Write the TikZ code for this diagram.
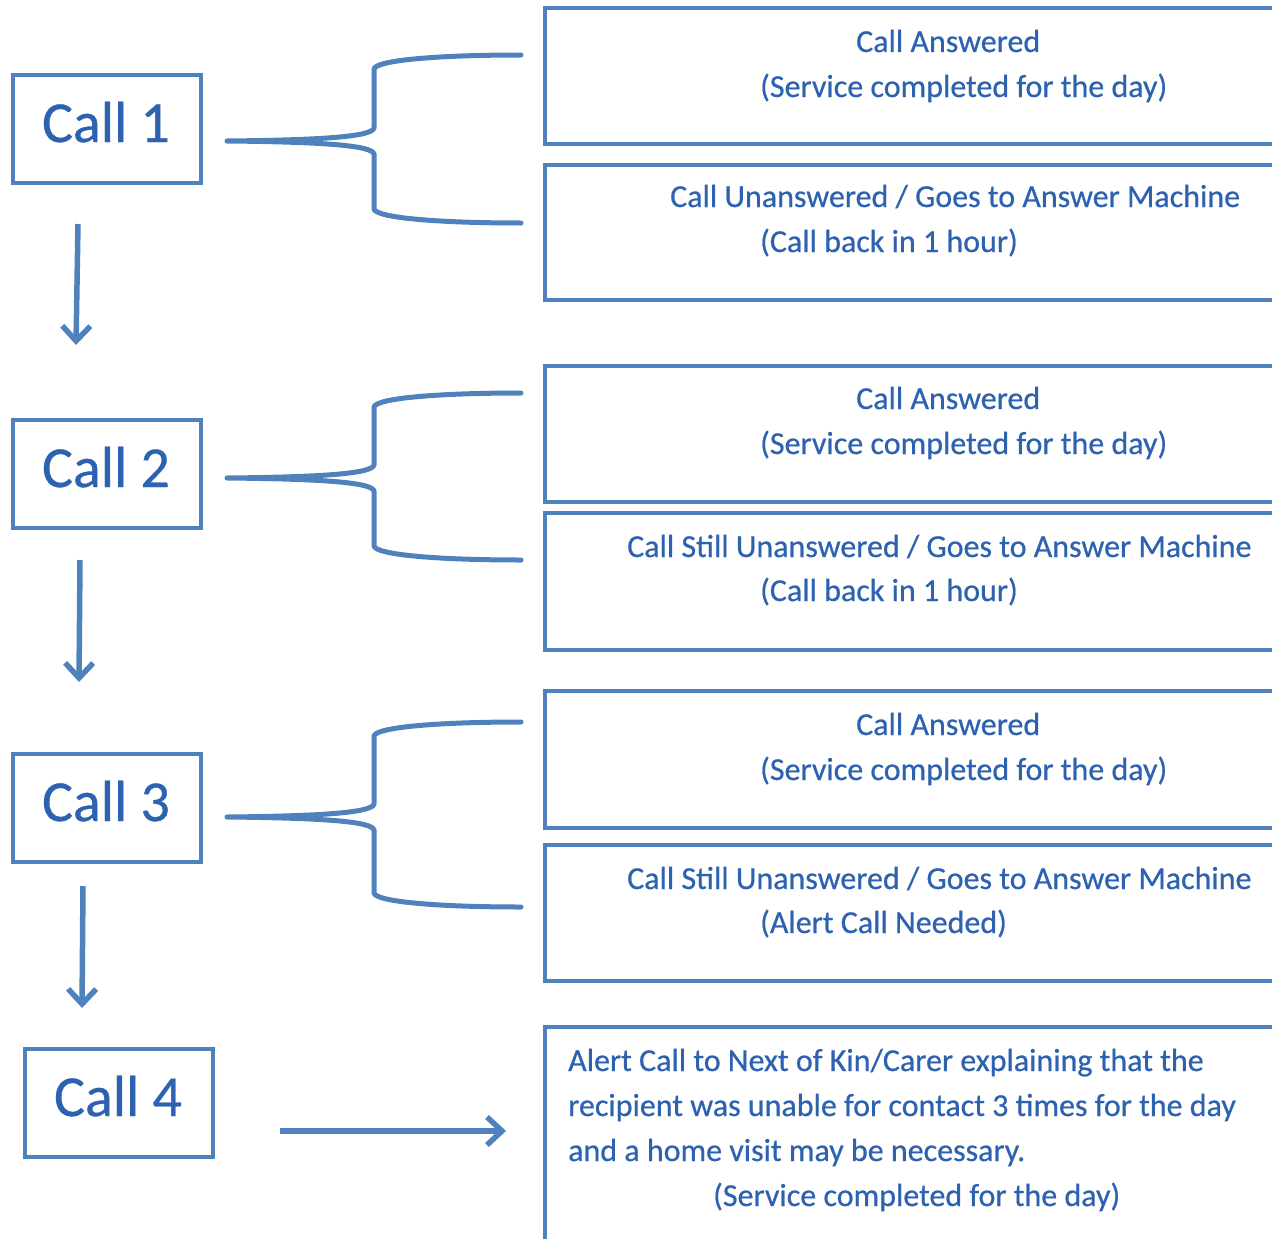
\documentclass[tikz,border=0pt]{standalone}
\usepackage{fontspec}
\setmainfont{Carlito}[FakeBold=0.6]
\usetikzlibrary{arrows.meta}
\definecolor{bline}{RGB}{79,129,189}
\definecolor{btext}{RGB}{45,98,176}
\newcommand\mybrace[3]{%
  \draw[brace] (521,#2) .. controls (440,#2) and (376,{#2+5}) .. (374,{#2+14})
    -- (374,{#1-13}) .. controls (372,{#1-5}) and (330,{#1-1}) .. (227,#1)
    .. controls (330,{#1+1}) and (372,{#1+5}) .. (374,{#1+13})
    -- (374,{#3-14}) .. controls (376,{#3-5}) and (440,#3) .. (521,#3);}
\begin{document}
\begin{tikzpicture}[x=1pt,y=-1pt,
  callbox/.style={draw=bline,line width=4.5pt,minimum width=188pt,minimum height=108pt,inner sep=0pt},
  calltext/.style={anchor=base,inner sep=0pt,text=btext,font=\fontsize{58}{60}\selectfont},
  rbox/.style={draw=bline,line width=4.5pt,minimum width=760pt,inner sep=0pt,outer sep=0pt,anchor=north west},
  rtext/.style={anchor=base west,inner sep=0pt,text=btext,font=\fontsize{32}{40}\selectfont},
  brace/.style={draw=bline,line width=5pt,line cap=round,line join=round},
  flow/.style={draw=bline,line width=5.5pt,-{Straight Barb[length=15pt,width=28pt,line width=5.5pt]}}
]
\useasboundingbox (0,0) rectangle (1272,1239);
\clip (0,0) rectangle (1272,1239);

% left call boxes
\node[callbox] (c1) at (107,129) {};
\node[calltext] (c1t) at (106,142) {Call 1};
\node[callbox] (c2) at (107,474) {};
\node[calltext] (c2t) at (106,487) {Call 2};
\node[callbox] (c3) at (107,808) {};
\node[calltext] (c3t) at (106,821) {Call 3};
\node[callbox] (c4) at (119,1103) {};
\node[calltext] (c4t) at (118,1116) {Call 4};

% right boxes
\node[rbox,minimum height=136pt] (r1) at (545,8) {};
\node[rbox,minimum height=135pt] (r2) at (545,165) {};
\node[rbox,minimum height=136pt] (r3) at (545,366) {};
\node[rbox,minimum height=137pt] (r4) at (545,513) {};
\node[rbox,minimum height=137pt] (r5) at (545,691) {};
\node[rbox,minimum height=136pt] (r6) at (545,845) {};
\node[rbox,minimum height=320pt] (r7) at (545,1027) {};

% texts
\node[rtext] (t1a) at (856,52) {Call Answered};
\node[rtext] (t1b) at (760,97) {(Service completed for the day)};
\node[rtext] (t2a) at (670,207) {Call Unanswered / Goes to Answer Machine};
\node[rtext] (t2b) at (760,252) {(Call back in 1 hour)};
\node[rtext] (t3a) at (856,409) {Call Answered};
\node[rtext] (t3b) at (760,454) {(Service completed for the day)};
\node[rtext] (t4a) at (627,557) {Call Still Unanswered / Goes to Answer Machine};
\node[rtext] (t4b) at (760,601) {(Call back in 1 hour)};
\node[rtext] (t5a) at (856,735) {Call Answered};
\node[rtext] (t5b) at (760,780) {(Service completed for the day)};
\node[rtext] (t6a) at (627,889) {Call Still Unanswered / Goes to Answer Machine};
\node[rtext] (t6b) at (760,933) {(Alert Call Needed)};
\node[rtext] (t7a) at (568,1071) {Alert Call to Next of Kin/Carer explaining that the};
\node[rtext] (t7b) at (568,1116) {recipient was unable for contact 3 times for the day};
\node[rtext] (t7c) at (568,1161) {and a home visit may be necessary.};
\node[rtext] (t7d) at (713,1206) {(Service completed for the day)};

% braces
\mybrace{141}{55}{223}
\mybrace{478}{393}{560}
\mybrace{817}{722}{907}

% arrows
\coordinate (a1s) at (78,224); \coordinate (a1e) at (76,345);
\coordinate (a2s) at (80,560); \coordinate (a2e) at (79,682);
\coordinate (a3s) at (83,886); \coordinate (a3e) at (82,1008);
\coordinate (a4s) at (280,1131); \coordinate (a4e) at (506,1131);
\draw[flow] (a1s) -- (a1e);
\draw[flow] (a2s) -- (a2e);
\draw[flow] (a3s) -- (a3e);
\draw[flow] (a4s) -- (a4e);
\end{tikzpicture}
\end{document}
